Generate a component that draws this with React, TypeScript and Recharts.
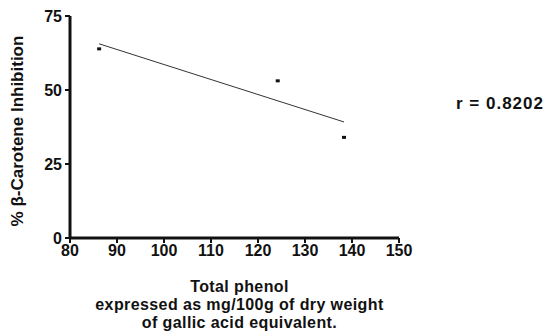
import React from 'react';
import { ScatterChart, Scatter, XAxis, YAxis } from 'recharts';

// measured points: total phenol vs % beta-carotene inhibition
const phenol = [86.2, 124.2, 138.3];
const inhibition = [63.9, 53.1, 34.0];

// end points of the fitted line
const fitX = [86.2, 138.3];
const fitY = [65.6, 39.2];

const xTicks = [80, 90, 100, 110, 120, 130, 140, 150];
const yTicks = [0, 25, 50, 75];

const points = phenol.map((x, i) => ({ x, y: inhibition[i] }));
const fitLine = fitX.map((x, i) => ({ x, y: fitY[i] }));

const FONT = '"Liberation Sans", Arial, sans-serif';
const INK = '#111';

const SquareDot = (props: any) => {
  const { cx, cy } = props;
  return <rect x={cx - 2} y={cy - 1.5} width={4} height={3} fill={INK} />;
};

const NoDot = () => <g />;

const XTick = (props: any) => {
  const { x, y, payload } = props;
  return (
    <text x={x} y={y + 13} textAnchor="middle" fontFamily={FONT} fontSize={16} fontWeight={700} fill={INK}>
      {payload.value}
    </text>
  );
};

const YTick = (props: any) => {
  const { x, y, payload } = props;
  return (
    <text x={x} y={y + 6} textAnchor="end" fontFamily={FONT} fontSize={16} fontWeight={700} fill={INK}>
      {payload.value}
    </text>
  );
};

const XTitle = (props: any) => {
  const vb = props.viewBox || {};
  const cx = vb.x + vb.width / 2 + 5;
  return (
    <text x={cx} textAnchor="middle" fontFamily={FONT} fontSize={16} fontWeight={700} letterSpacing={0.4} fill={INK}>
      <tspan x={cx} y={292}>Total phenol</tspan>
      <tspan x={cx} y={310}>expressed as mg/100g of dry weight</tspan>
      <tspan x={cx} y={328}>of gallic acid equivalent.</tspan>
    </text>
  );
};

const YTitle = (props: any) => {
  const vb = props.viewBox || {};
  const cy = vb.y + vb.height / 2 + 4;
  const cx = 23;
  return (
    <text
      x={cx}
      y={cy}
      transform={`rotate(-90, ${cx}, ${cy})`}
      textAnchor="middle"
      fontFamily={FONT}
      fontSize={17}
      fontWeight={700}
      fill={INK}
    >
      % β-Carotene Inhibition
    </text>
  );
};

export default function App() {
  return (
    <div style={{ position: 'absolute', left: 0, top: 0, width: 543, height: 331, background: '#fff' }}>
      <ScatterChart width={543} height={331} margin={{ top: 16, right: 144, left: 20, bottom: 0 }}>
        <XAxis
          type="number"
          dataKey="x"
          domain={[80, 150]}
          ticks={xTicks}
          height={93}
          axisLine={{ stroke: INK, strokeWidth: 3 }}
          tickLine={{ stroke: INK, strokeWidth: 2 }}
          tickSize={5}
          tickMargin={0}
          tick={<XTick />}
          label={<XTitle />}
          allowDataOverflow
        />
        <YAxis
          type="number"
          dataKey="y"
          domain={[0, 75]}
          ticks={yTicks}
          width={50}
          axisLine={{ stroke: INK, strokeWidth: 3 }}
          tickLine={{ stroke: INK, strokeWidth: 2 }}
          tickSize={5}
          tickMargin={3}
          tick={<YTick />}
          label={<YTitle />}
          allowDataOverflow
        />
        <Scatter
          data={fitLine}
          line={{ stroke: '#333', strokeWidth: 1 }}
          shape={NoDot}
          isAnimationActive={false}
        />
        <Scatter data={points} shape={SquareDot} fill={INK} isAnimationActive={false} />
      </ScatterChart>
      <div
        style={{
          position: 'absolute',
          left: 456,
          top: 94,
          fontFamily: FONT,
          fontSize: 17,
          fontWeight: 'bold',
          letterSpacing: 1,
          color: INK,
          whiteSpace: 'nowrap',
        }}
      >
        r = 0.8202
      </div>
    </div>
  );
}
